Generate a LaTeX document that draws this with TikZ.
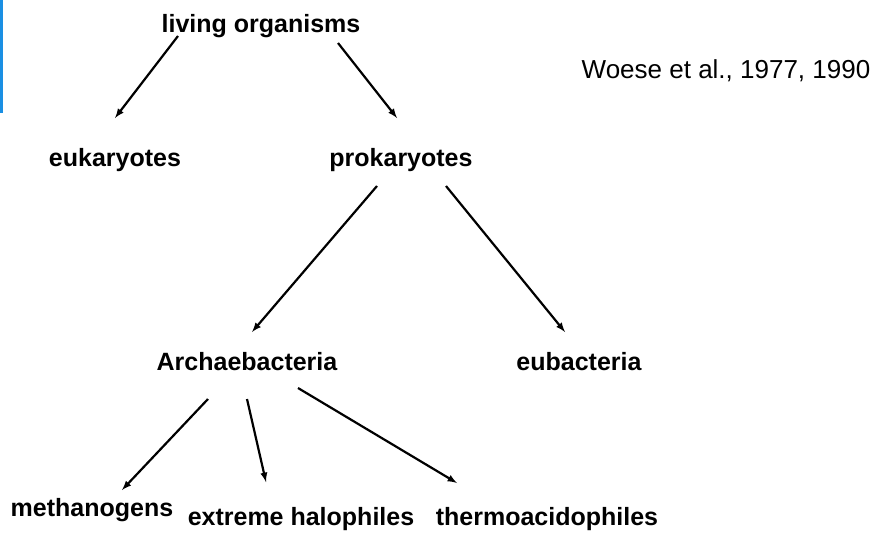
\documentclass[tikz,border=0pt]{standalone}
\usepackage{fontspec}
\setmainfont{Liberation Sans}
\definecolor{barblue}{RGB}{26,143,227}
\tikzset{
	taxon/.style={font=\fontsize{25}{30}\selectfont\bfseries, anchor=base, inner sep=0pt},
	cite/.style={font=\fontsize{26}{31}\selectfont, anchor=base, inner sep=0pt},
	arr/.style={-latex, line width=2.2pt}
}
\begin{document}
\begin{tikzpicture}[x=1pt,y=-1pt]
	\useasboundingbox (0,0) rectangle (878,533);
	\fill [barblue] (0,0) rectangle (3,113);	% left bar

	\node [taxon] (living) at (261,32) {living organisms};
	\node [cite] (woese) at (726,78) {Woese et al., 1977, 1990};

	\node [taxon] (euk) at (115,166) {eukaryotes};
	\node [taxon] (prok) at (401,166) {prokaryotes};

	\node [taxon] (arch) at (247,370) {Archaebacteria};
	\node [taxon] (eub) at (579,370) {eubacteria};

	\node [taxon] (meth) at (92,516) {methanogens};
	\node [taxon] (halo) at (301,525) {extreme halophiles};
	\node [taxon] (thermo) at (547,525) {thermoacidophiles};

	\draw [arr] ([shift={(-83,4)}]living.base) -- ([shift={(0,-48)}]euk.base);
	\draw [arr] ([shift={(77,11)}]living.base) -- ([shift={(-4,-48)}]prok.base);

	\draw [arr] ([shift={(-24,20)}]prok.base) -- ([shift={(5,-38)}]arch.base);
	\draw [arr] ([shift={(45,20)}]prok.base) -- ([shift={(-14,-38)}]eub.base);

	\draw [arr] ([shift={(-39,29)}]arch.base) -- ([shift={(30,-26)}]meth.base);
	\draw [arr] ([shift={(0,29)}]arch.base) -- ([shift={(-35,-43)}]halo.base);
	\draw [arr] ([shift={(51,18)}]arch.base) -- ([shift={(-90,-42)}]thermo.base);
\end{tikzpicture}
\end{document}
